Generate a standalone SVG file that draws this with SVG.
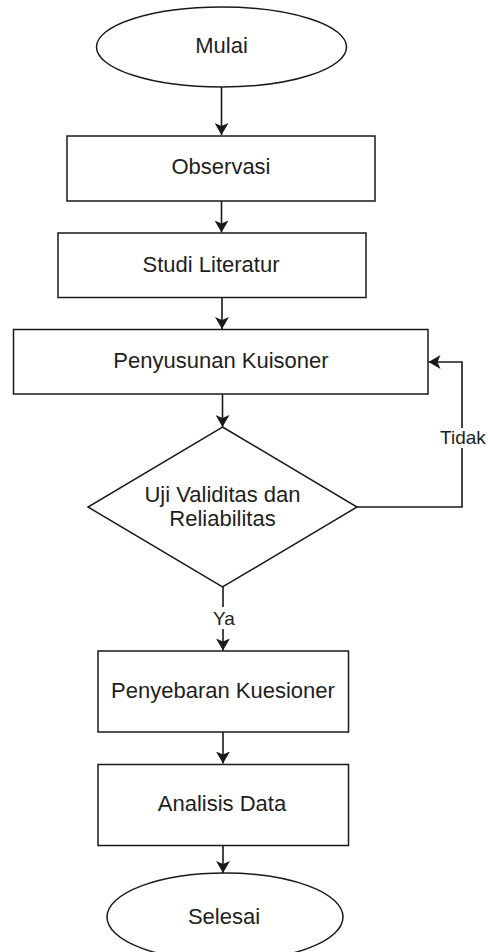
<svg xmlns="http://www.w3.org/2000/svg" width="488" height="952" viewBox="0 0 488 952">
<style>
.shape{fill:#fff;stroke:#1a1a1a;stroke-width:1.5}
.lbl{font-family:"Liberation Sans",Arial,sans-serif;font-size:22px;fill:#1e1e1e;text-anchor:middle}
.elbl{font-family:"Liberation Sans",Arial,sans-serif;font-size:19px;fill:#1e1e1e;text-anchor:middle}
.edge{fill:none;stroke:#1a1a1a;stroke-width:1.6}
</style>
<defs>
<marker id="arr" viewBox="0 0 12 14" refX="12" refY="7" markerWidth="12" markerHeight="14" markerUnits="userSpaceOnUse" orient="auto">
<path d="M0,0 L12,7 L0,14 L3,7 Z" fill="#1a1a1a"/>
</marker>
</defs>
<rect width="488" height="952" fill="#fff"/>
<g id="connectors">
<path class="edge" d="M221.5,87 V135" marker-end="url(#arr)"/>
<path class="edge" d="M221.5,201 V232.5" marker-end="url(#arr)"/>
<path class="edge" d="M222,297.5 V329" marker-end="url(#arr)"/>
<path class="edge" d="M222.5,394 V427" marker-end="url(#arr)"/>
<path class="edge" d="M357,507 H462 V362 H428.5" marker-end="url(#arr)"/>
<path class="edge" d="M223,587 V650.5" marker-end="url(#arr)"/>
<path class="edge" d="M223,732 V763.5" marker-end="url(#arr)"/>
<path class="edge" d="M223,846 V873" marker-end="url(#arr)"/>
<g id="label-tidak">
<rect x="438" y="428" width="50" height="20" fill="#fff"/>
<text class="elbl" x="463" y="444">Tidak</text>
</g>
<g id="label-ya">
<rect x="211" y="607" width="25" height="22" fill="#fff"/>
<text class="elbl" x="224" y="625">Ya</text>
</g>
</g>
<g id="mulai">
<ellipse class="shape" cx="221.5" cy="47" rx="125" ry="40"/>
<text class="lbl" x="221.5" y="53">Mulai</text>
</g>
<g id="observasi">
<rect class="shape" x="67" y="136" width="308" height="65"/>
<text class="lbl" x="221" y="174">Observasi</text>
</g>
<g id="studi-literatur">
<rect class="shape" x="58" y="233" width="308" height="64.5"/>
<text class="lbl" x="211" y="272">Studi Literatur</text>
</g>
<g id="penyusunan-kuisoner">
<rect class="shape" x="13.5" y="329.5" width="414.5" height="64.5"/>
<text class="lbl" x="221" y="368">Penyusunan Kuisoner</text>
</g>
<g id="uji-validitas">
<polygon class="shape" points="222.5,427 357,507 222.5,587 88,507"/>
<text class="lbl" x="222.5" y="502">Uji Validitas dan</text>
<text class="lbl" x="222.5" y="526">Reliabilitas</text>
</g>
<g id="penyebaran-kuesioner">
<rect class="shape" x="98" y="651" width="250.5" height="81"/>
<text class="lbl" x="223" y="698">Penyebaran Kuesioner</text>
</g>
<g id="analisis-data">
<rect class="shape" x="98" y="764.5" width="250.5" height="81"/>
<text class="lbl" x="222" y="810.5">Analisis Data</text>
</g>
<g id="selesai">
<ellipse class="shape" cx="225" cy="917" rx="118" ry="44"/>
<text class="lbl" x="224" y="923.5">Selesai</text>
</g>
</svg>
